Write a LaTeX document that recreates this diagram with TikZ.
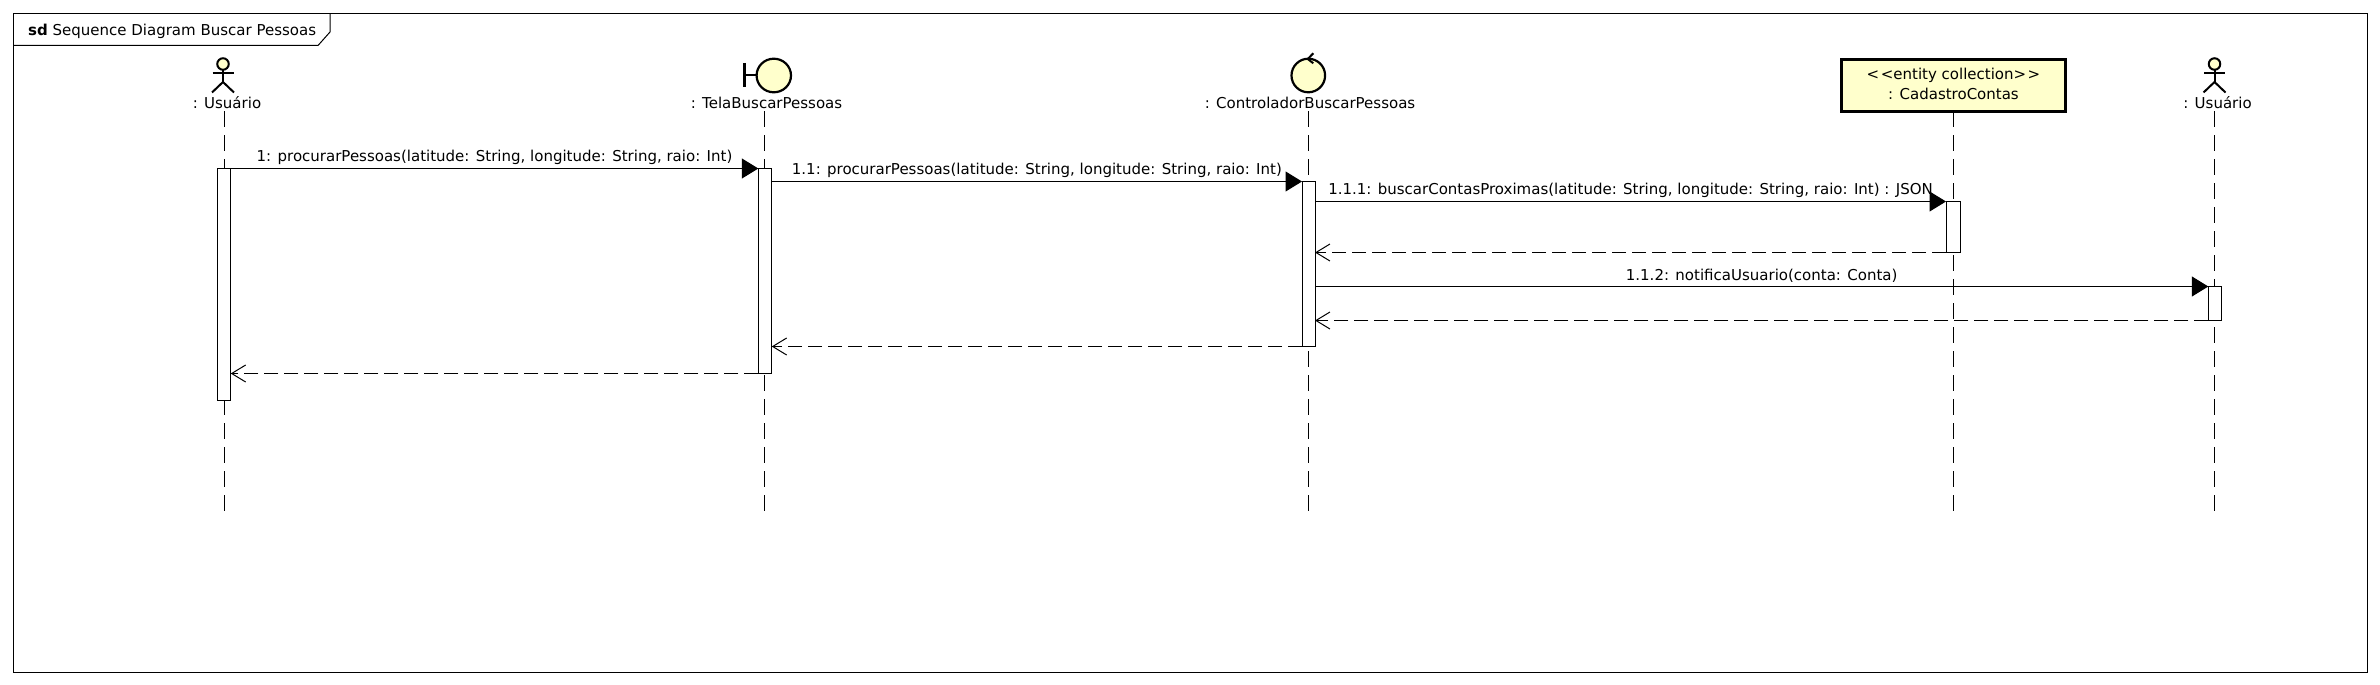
\documentclass[tikz,border=0pt]{standalone}
\usepackage{fontspec}
\setmainfont{DejaVu Sans}
\usetikzlibrary{arrows.meta}
\definecolor{umlfill}{HTML}{FFFFCC}
\tikzset{
  lbl/.style={font=\fontsize{15}{17}\selectfont, inner sep=0pt, text=black},
  life/.style={draw=black, line width=1pt, dash pattern=on 16pt off 8pt},
  bar/.style={draw=black, fill=white, line width=1pt, rectangle, inner sep=0pt, outer sep=0pt, anchor=north west},
  sync/.style={draw=black, line width=1.1pt, -{Triangle[length=16.5pt,width=20pt]}, shorten >=0pt},
  ret/.style={draw=black, line width=1pt, dash pattern=on 14pt off 6pt, -{Straight Barb[length=14pt,width=17pt,line width=1pt]}},
  icon/.style={draw=black, line width=2.2pt, fill=umlfill},
  stick/.style={draw=black, line width=2pt},
}
\begin{document}
\begin{tikzpicture}[x=1pt,y=-1pt]
\useasboundingbox (0,0) rectangle (2380,685);
% frame
\draw[line width=1pt] (13.5,13.5) rectangle (2367,672);
\draw[line width=1pt] (13.5,45.5) -- (318,45.5) -- (330,32) -- (330,13.5);
\node[lbl, anchor=west] (title) at (28,31) {\textbf{sd} Sequence Diagram Buscar Pessoas};
% head labels
\node[lbl] (lU1) at (227,103) {: Usuário};
\node[lbl] (lT) at (766.5,103) {: TelaBuscarPessoas};
\node[lbl] (lC) at (1310,103) {: ControladorBuscarPessoas};
\node[lbl] (lU2) at (2217.5,103) {: Usuário};
% entity
\node[draw=black, line width=3pt, fill=umlfill, minimum width=224pt, minimum height=52pt, inner sep=0pt] (ent) at (1953.5,85.5) {};
\node[lbl] (entA) at (1953.5,75) {<\kern1.5pt<entity collection>\kern1.5pt>};
\node[lbl] (entB) at (1953.5,94) {: CadastroContas};
% lifeline anchors
\coordinate (u1top) at (224.5,111.3);
\coordinate (ttop) at (764,111.3);
\coordinate (ctop) at (1308.5,111.3);
\coordinate (etop) at (1953.5,111.3);
\coordinate (u2top) at (2214.3,111.3);
\coordinate (u1end) at (224.5,511.3);
\coordinate (tend) at (764,511.3);
\coordinate (cend) at (1308.5,511.3);
\coordinate (eend) at (1953.5,511.3);
\coordinate (u2end) at (2214.3,511.3);
% lifelines
\draw[life] (u1top) -- (u1end);
\draw[life] (ttop) -- (tend);
\draw[life] (ctop) -- (cend);
\draw[life] (etop) -- (eend);
\draw[life] (u2top) -- (u2end);
% activations
\node[bar, minimum width=13.4pt, minimum height=232pt] (a1) at (217.3,168.5) {};
\node[bar, minimum width=13.4pt, minimum height=205pt] (a2) at (758.3,168.5) {};
\node[bar, minimum width=13pt, minimum height=165pt] (a3) at (1302,181.5) {};
\node[bar, minimum width=14pt, minimum height=51pt] (a4) at (1946,201.5) {};
\node[bar, minimum width=13.4pt, minimum height=34pt] (a5) at (2208.3,286.5) {};
% actors
\foreach \n/\x in {A/223,B/2214.5}{
  \draw[stick] (\x-10.5,73) -- (\x+10.5,73);
  \draw[stick] (\x,69) -- (\x,82);
  \draw[stick] (\x-11,92.5) -- (\x,82) -- (\x+11,92.5);
  \node[draw=black, line width=2pt, fill=umlfill, circle, minimum size=11.5pt, inner sep=0pt] (head\n) at (\x,64) {};
}
% boundary
\draw[stick, line width=2.4pt] (744.3,63) -- (744.3,87);
\draw[stick] (744.3,75.5) -- (757,75.5);
\draw[icon] (773.8,75.5) ellipse [x radius=17.2, y radius=16.8];
% control
\draw[icon] (1308.3,75.5) ellipse [x radius=16.8, y radius=16.8];
\draw[stick] (1313.3,53.3) -- (1307.7,59) -- (1313.3,63.3);
% messages
\draw[sync] (a1.north east) -- node[lbl, above=3pt] (m1) {1: procurarPessoas(latitude: String, longitude: String, raio: Int)} (a2.north west);
\draw[sync] (a2.east |- a3.north) -- node[lbl, above=3pt] (m2) {1.1: procurarPessoas(latitude: String, longitude: String, raio: Int)} (a3.north west);
\draw[sync] (a3.east |- a4.north) -- node[lbl, above=3pt] (m3) {1.1.1: buscarContasProximas(latitude: String, longitude: String, raio: Int) : JSON} (a4.north west);
\draw[ret] (a4.south west) -- (a3.east |- a4.south);
\draw[sync] (a3.east |- a5.north) -- node[lbl, above=3pt] (m4) {1.1.2: notificaUsuario(conta: Conta)} (a5.north west);
\draw[ret] (a5.south west) -- (a3.east |- a5.south);
\draw[ret] (a3.south west) -- (a2.east |- a3.south);
\draw[ret] (a2.south west) -- (a1.east |- a2.south);
\end{tikzpicture}
\end{document}
